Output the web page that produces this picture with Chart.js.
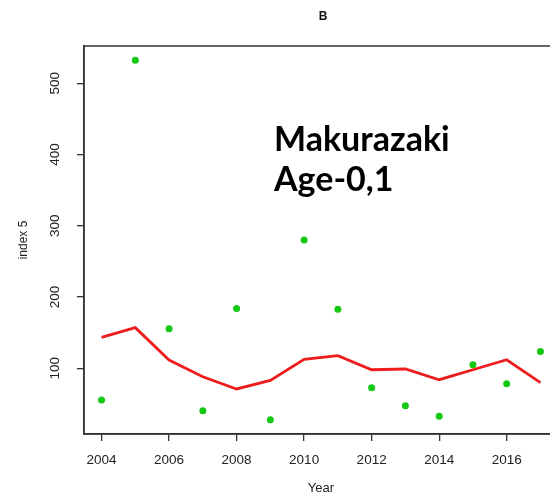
<!DOCTYPE html>
<html>
<head>
<meta charset="utf-8">
<script src="https://cdn.jsdelivr.net/npm/chart.js@4.4.1/dist/chart.umd.min.js"></script>
<style>
  html, body { margin: 0; padding: 0; background: #fff; overflow: hidden; }
  #wrap { width: 550px; height: 496px; overflow: hidden; position: relative; }
  #wrap canvas { position: absolute; left: 0; top: 0; }
</style>
</head>
<body>
<div id="wrap"><canvas id="chart" width="562" height="496"></canvas></div>
<script>
// data
const years = [2004, 2005, 2006, 2007, 2008, 2009, 2010, 2011, 2012, 2013, 2014, 2015, 2016, 2017];
const observed = [55.5, 532, 155.6, 40.5, 184, 28, 280, 183, 72.8, 47.5, 32.6, 105, 78.4, 123.5];
const fitted = [143.5, 157, 111.6, 88.2, 71, 83, 112.5, 117.7, 98, 99, 84, 98, 112, 80];
const xTicks = [2004, 2006, 2008, 2010, 2012, 2014, 2016];
const yTicks = [100, 200, 300, 400, 500];

const AXIS = '#333333';
const TICK_FONT = { family: 'Liberation Sans, Arial, sans-serif', size: 13.5 };

// R style 4% padding around the data range
function rangeOf(vals) {
    const lo = Math.min(...vals), hi = Math.max(...vals);
    const pad = (hi - lo) * 0.04;
    return [lo - pad, hi + pad];
}
const [xMin, xMax] = rangeOf(years);
const [yMin, yMax] = rangeOf(observed.concat(fitted));

const frameAndText = {
    id: 'frameAndText',
    afterDraw(chart) {
        const { ctx, chartArea: a } = chart;
        ctx.save();
        ctx.strokeStyle = AXIS;
        ctx.lineWidth = 1.5;
        ctx.strokeRect(a.left, a.top, a.right - a.left, a.bottom - a.top);

        ctx.fillStyle = '#111';
        ctx.textAlign = 'center';
        ctx.textBaseline = 'middle';
        ctx.font = 'bold 12px Liberation Sans, Arial, sans-serif';
        ctx.fillText('B', 323, 17);

        ctx.fillStyle = '#000';
        ctx.textAlign = 'left';
        ctx.textBaseline = 'alphabetic';
        ctx.font = 'bold 34px Lato, sans-serif';
        ctx.fillText('Makurazaki', 274, 151);
        ctx.fillText('Age-0,1', 274, 191);
        ctx.restore();
    }
};

new Chart(document.getElementById('chart'), {
    type: 'scatter',
    data: {
        datasets: [
            {
                type: 'line',
                label: 'fitted',
                data: years.map((y, i) => ({ x: y, y: fitted[i] })),
                borderColor: '#ee1c1c',
                borderWidth: 2.8,
                pointRadius: 0,
                fill: false,
                tension: 0
            },
            {
                label: 'index',
                data: years.map((y, i) => ({ x: y, y: observed[i] })),
                backgroundColor: '#14c814',
                borderWidth: 0,
                pointRadius: 3.5
            }
        ]
    },
    options: {
        responsive: false,
        animation: false,
        layout: { padding: { top: 46, right: 0, left: 0, bottom: 0 } },
        plugins: {
            legend: { display: false },
            tooltip: { enabled: false }
        },
        scales: {
            x: {
                type: 'linear',
                min: xMin,
                max: xMax,
                afterBuildTicks: s => { s.ticks = xTicks.map(v => ({ value: v })); },
                afterFit: s => { s.height = 62; },
                grid: { drawOnChartArea: false, drawTicks: true, tickLength: 7, color: AXIS, lineWidth: 1.3 },
                border: { display: true, color: AXIS, width: 1.5 },
                ticks: { color: '#222', font: TICK_FONT, padding: 11, maxRotation: 0, callback: v => String(v) },
                title: {
                    display: true, text: 'Year', color: '#222',
                    font: { family: 'Liberation Sans, Arial, sans-serif', size: 13 },
                    padding: { top: 0, bottom: 0 }
                }
            },
            y: {
                min: yMin,
                max: yMax,
                afterBuildTicks: s => { s.ticks = yTicks.map(v => ({ value: v })); },
                afterFit: s => { s.width = 84; },
                grid: { drawOnChartArea: false, drawTicks: true, tickLength: 7, color: AXIS, lineWidth: 1.3 },
                border: { display: true, color: AXIS, width: 1.5 },
                ticks: { color: '#222', font: TICK_FONT, padding: 10, minRotation: 90, maxRotation: 90, crossAlign: 'center' },
                title: {
                    display: true, text: 'index 5', color: '#222',
                    font: { family: 'Liberation Sans, Arial, sans-serif', size: 12 },
                    padding: { top: 16, bottom: 0 }
                }
            }
        }
    },
    plugins: [frameAndText]
});
</script>
</body>
</html>
